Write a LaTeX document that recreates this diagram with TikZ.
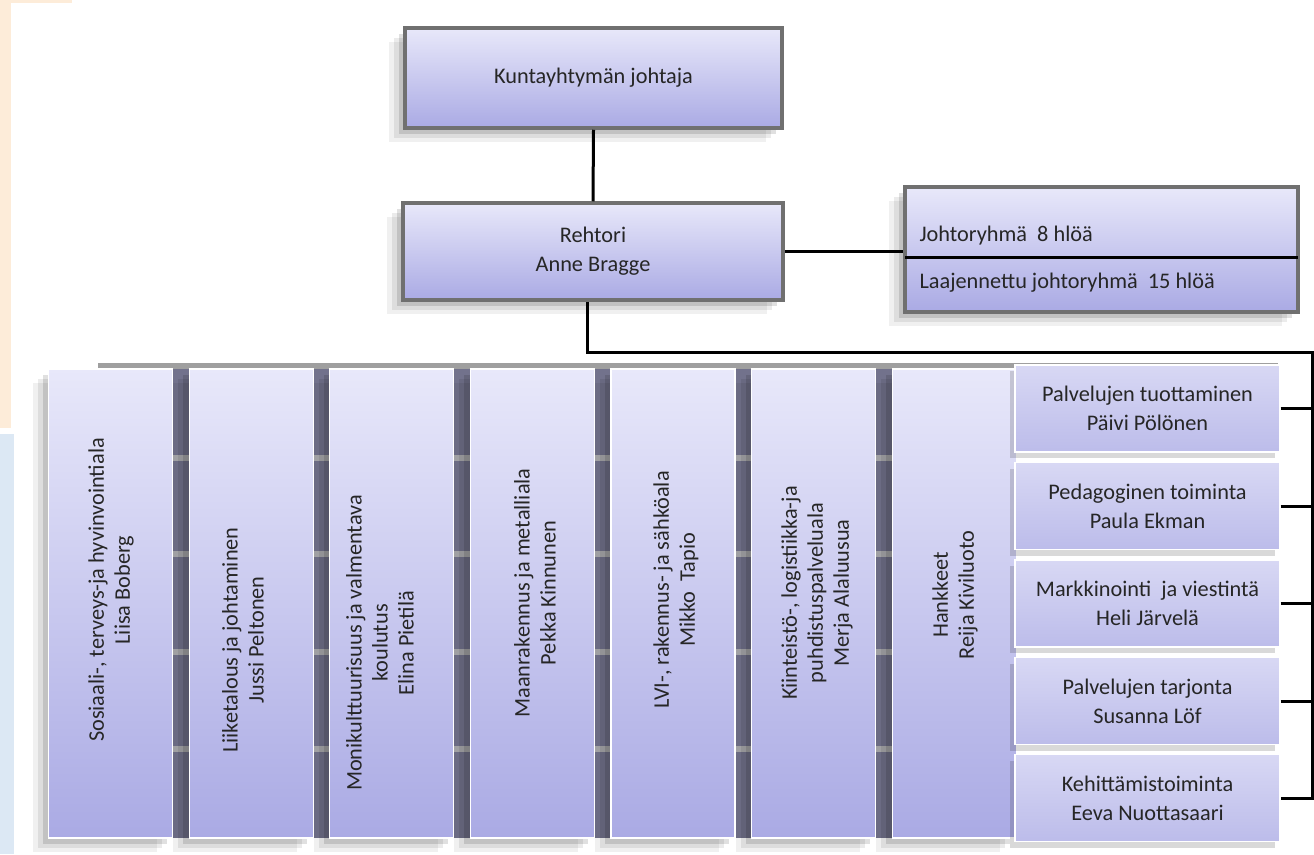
\documentclass[tikz,border=0pt]{standalone}
\usepackage{fontspec}
\setmainfont{Carlito}
\usetikzlibrary{shadows}
\definecolor{boxtop}{RGB}{232,232,250}
\definecolor{boxbot}{RGB}{170,170,228}
\definecolor{boxedge}{RGB}{112,112,112}
\definecolor{rowtop}{RGB}{216,216,244}
\definecolor{rowbot}{RGB}{188,188,234}
\definecolor{gapgray}{RGB}{114,114,140}
\definecolor{stripe}{RGB}{170,170,174}
\definecolor{peach}{RGB}{253,236,217}
\definecolor{paleblue}{RGB}{220,232,244}
\definecolor{txt}{RGB}{38,38,38}

\begin{document}
\begin{tikzpicture}[x=1pt,y=-1pt,
	every node/.style={font=\fontsize{22.3}{29}\selectfont,text=txt},
	softshadow/.style={
		drop shadow={shadow xshift=-16pt,shadow yshift=-14pt,opacity=.06,fill=black},
		drop shadow={shadow xshift=-11pt,shadow yshift=-10pt,opacity=.08,fill=black},
		drop shadow={shadow xshift=-6pt,shadow yshift=-6pt,opacity=.12,fill=black}},
	headbox/.style={draw=boxedge,line width=3.5pt,top color=boxtop,bottom color=boxbot,inner sep=0pt,align=center,softshadow},
	colbox/.style={draw=white,line width=1.2pt,top color=boxtop,bottom color=boxbot,inner sep=0pt,
		minimum width=124pt,minimum height=469pt,softshadow},
	coltext/.style={rotate=90,align=center,font=\fontsize{22.3}{26}\selectfont},
	rowbox/.style={draw=white,line width=1.2pt,top color=rowtop,bottom color=rowbot,inner sep=0pt,align=center,
		minimum width=265pt,minimum height=87pt,
		drop shadow={shadow xshift=-5pt,shadow yshift=-6pt,opacity=.15,fill=black}},
	conn/.style={line width=3pt,black}]
	\useasboundingbox (0,0) rectangle (1314,854);
	\fill[white] (0,0) rectangle (1314,854);
	\fill[peach] (0,0) rectangle (72,3);
	\fill[peach] (0,0) rectangle (11,428);
	\fill[paleblue] (0,434) rectangle (14,854);
	\fill[gapgray] (160,366) rectangle (1016,838);
	\fill[stripe] (160,455) rectangle (1016,461);
	\fill[stripe] (160,551) rectangle (1016,557);
	\fill[stripe] (160,649) rectangle (1016,655);
	\fill[stripe] (160,746) rectangle (1016,752);
	\fill[gray!75] (98,363) rectangle (1278,369);
	\node[colbox] (c1) at (110.5,603.5) {};
	\node[colbox] (c2) at (251.1,603.5) {};
	\node[colbox] (c3) at (391.7,603.5) {};
	\node[colbox] (c4) at (532.3,603.5) {};
	\node[colbox] (c5) at (672.9,603.5) {};
	\node[colbox] (c6) at (813.5,603.5) {};
	\node[colbox] (c7) at (954.1,603.5) {};
	\node[coltext] (c1txt) at (111,590) {Sosiaali-, terveys-ja hyvinvointiala\\Liisa Boberg};
	\node[coltext] (c2txt) at (243,640) {Liiketalous ja johtaminen\\Jussi Peltonen};
	\node[coltext] (c3txt) at (380,643) {Monikulttuurisuus ja valmentava\\koulutus\\Elina Pietilä};
	\node[coltext] (c4txt) at (535,593) {Maanrakennus ja metalliala\\Pekka Kinnunen};
	\node[coltext] (c5txt) at (676,590) {LVI-, rakennus- ja sähköala\\Mikko\ \ Tapio};
	\node[coltext] (c6txt) at (817,593) {Kiinteistö-, logistiikka-ja\\puhdistuspalveluala\\Merja Alaluusua};
	\node[coltext] (c7txt) at (955,595) {Hankkeet\\Reija Kiviluoto};
	\node[rowbox] (r1) at (1147.5,408.5) {Palvelujen tuottaminen\\Päivi Pölönen};
	\node[rowbox] (r2) at (1147.5,506) {Pedagoginen toiminta\\Paula Ekman};
	\node[rowbox] (r3) at (1147.5,603.5) {Markkinointi\ \ ja viestintä\\Heli Järvelä};
	\node[rowbox] (r4) at (1147.5,701) {Palvelujen tarjonta\\Susanna Löf};
	\node[rowbox] (r5) at (1147.5,798) {Kehittämistoiminta\\Eeva Nuottasaari};
	\node[headbox,minimum width=377pt,minimum height=100pt] (kjoht) at (593.5,78) {Kuntayhtymän johtaja};
	\node[headbox,minimum width=380pt,minimum height=97pt] (rehtori) at (593,251.5) {Rehtori\\Anne Bragge};
	\node[headbox,minimum width=393pt,minimum height=125pt] (johto) at (1101.5,249.5) {};
	\node[anchor=west] (jr8) at (916,236) {Johtoryhmä\ \ 8 hlöä};
	\node[anchor=west] (jr15) at (916,283) {Laajennettu johtoryhmä\ \ 15 hlöä};
	\coordinate (sepL) at (905,257);
	\coordinate (sepR) at (1298,257);
	\coordinate (busR) at (1312,352);
	\draw[conn] (kjoht.south) -- (rehtori.north);
	\draw[conn] (rehtori.east) -- (rehtori.east -| johto.west);
	\draw[conn] (sepL) -- (sepR);
	\draw[conn] ([xshift=-6pt]rehtori.south) |- (busR) -- (r5.east -| busR) -- (r5.east);
	\draw[conn] (r1.east) -- (r1.east -| busR);
	\draw[conn] (r2.east) -- (r2.east -| busR);
	\draw[conn] (r3.east) -- (r3.east -| busR);
	\draw[conn] (r4.east) -- (r4.east -| busR);
\end{tikzpicture}
\end{document}
